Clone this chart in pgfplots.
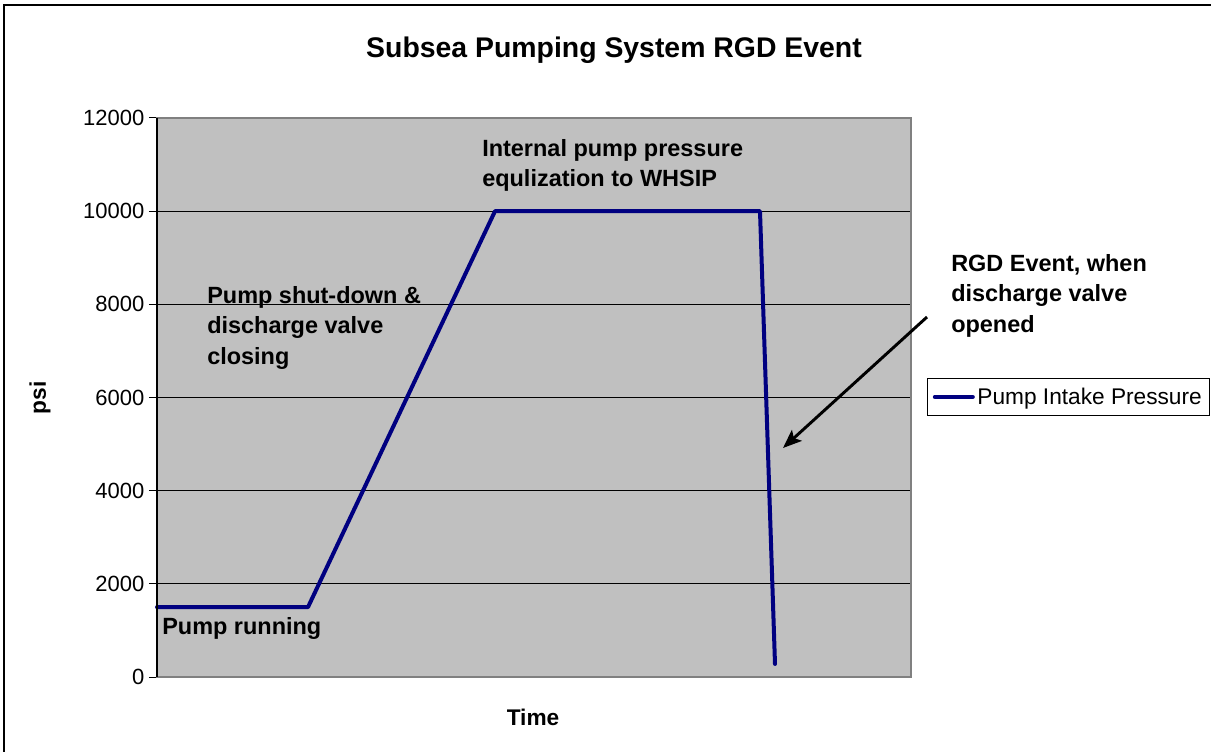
\documentclass[border=0pt]{standalone}
\usepackage{fontspec}
\setmainfont{Liberation Sans}
\usepackage{pgfplots}
\pgfplotsset{compat=1.18}
\usetikzlibrary{arrows.meta}
\definecolor{plotgray}{RGB}{192,192,192}
\definecolor{bordergray}{RGB}{128,128,128}
\definecolor{navyline}{RGB}{0,0,128}
\begin{document}
\begin{tikzpicture}
\useasboundingbox (0,0) rectangle (908.25pt,563.25pt);
\fill[white] (0,0) rectangle (908.25pt,563.25pt);
\draw[line width=1.2pt] (3pt,-20pt) -- (3pt,559.5pt) -- (930pt,559.5pt);
\node[font={\fontsize{21.3}{25}\selectfont\bfseries}, anchor=base] at (460.5pt,519.75pt) {Subsea Pumping System RGD Event};
\begin{axis}[
  at={(117.75pt,55.5pt)}, anchor=south west,
  scale only axis, width=565.5pt, height=419.25pt,
  xmin=0, xmax=754, ymin=0, ymax=12000,
  clip=false,
  axis background/.style={fill=plotgray},
  axis line style={draw=bordergray, line width=1.5pt},
  xtick=\empty,
  ytick={0,2000,4000,6000,8000,10000,12000},
  scaled y ticks=false,
  ymajorgrids,
  major grid style={black, line width=0.75pt},
  tick align=outside,
  major tick length=6pt,
  ytick style={black, line width=0.75pt},
  tick pos=left,
  /pgf/number format/assume math mode=true,
  /pgf/number format/1000 sep={},
  yticklabel style={font={\fontsize{16.5}{20}\selectfont}},
  xlabel={Time}, ylabel={psi},
  every axis x label/.style={at={(axis description cs:0.4987,-0.073)}, anchor=center, font={\fontsize{17}{20}\selectfont\bfseries}},
  every axis y label/.style={at={(axis description cs:-0.155,0.499)}, anchor=center, rotate=90, font={\fontsize{17}{20}\selectfont\bfseries}},
  legend style={at={(axis description cs:1.0212,0.4669)}, anchor=south west, draw=black, line width=0.75pt, fill=white, font={\fontsize{17}{20}\selectfont}, inner xsep=4pt, inner ysep=5pt},
  legend image code/.code={\draw[#1] (0pt,0pt) -- (28.5pt,0pt);},
]
\addplot[navyline, line width=3pt, line join=round, line cap=round] coordinates {(0,1500) (151,1500) (338,10000) (603,10000) (618,280)};
\addlegendentry{Pump Intake Pressure}
\draw[black, line width=1.2pt] (rel axis cs:0,0) -- (rel axis cs:0,1);
\node[anchor=north west, inner sep=0pt, align=left, font={\fontsize{17.6}{22.9}\selectfont\bfseries}] at (axis cs:5,1288) {Pump running};
\node[anchor=north west, inner sep=0pt, align=left, font={\fontsize{17.6}{22.9}\selectfont\bfseries}] at (axis cs:50,8394) {Pump shut-down \&\\discharge valve\\closing};
\node[anchor=north west, inner sep=0pt, align=left, font={\fontsize{17.6}{22.9}\selectfont\bfseries}] at (axis cs:325,11549) {Internal pump pressure\\equlization to WHSIP};
\node[anchor=north west, inner sep=0pt, align=left, font={\fontsize{17.6}{22.9}\selectfont\bfseries}] at (axis cs:794,9081) {RGD Event, when\\discharge valve\\opened};
\draw[-{Stealth[length=14pt,width=11pt,inset=3pt]}, line width=2.2pt] (axis cs:770,7728) -- (axis cs:626,4916);
\end{axis}
\end{tikzpicture}
\end{document}
